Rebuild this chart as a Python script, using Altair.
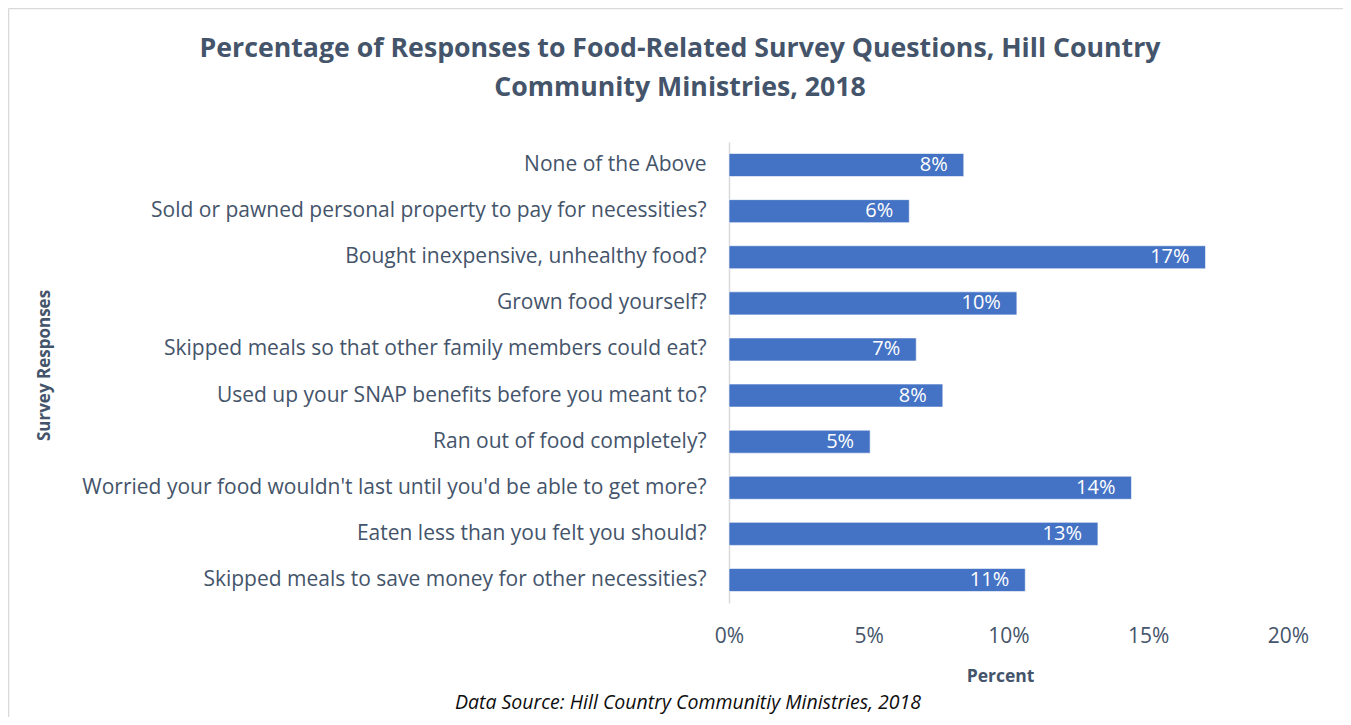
import altair as alt
import pandas as pd

questions = [
    "None of the Above",
    "Sold or pawned personal property to pay for necessities?",
    "Bought inexpensive, unhealthy food?",
    "Grown food yourself?",
    "Skipped meals so that other family members could eat?",
    "Used up your SNAP benefits before you meant to?",
    "Ran out of food completely?",
    "Worried your food wouldn't last until you'd be able to get more?",
    "Eaten less than you felt you should?",
    "Skipped meals to save money for other necessities?",
]
percents = [0.084, 0.0645, 0.1705, 0.103, 0.067, 0.0765, 0.0505, 0.144, 0.132, 0.106]
x_ticks = [0, 0.05, 0.10, 0.15, 0.20]

title_lines = [
    "Percentage of Responses to Food-Related Survey Questions, Hill Country",
    "Community Ministries, 2018",
]
caption = "Data Source: Hill Country Communitiy Ministries, 2018"

df = pd.DataFrame({"question": questions, "pct": percents})

FONT = "Open Sans"
SLATE = "#44546A"

y_enc = alt.Y(
    "question:N",
    sort=questions,
    scale=alt.Scale(paddingInner=0.5, paddingOuter=0.25),
    axis=alt.Axis(
        title="Survey Responses",
        titleFont=FONT,
        titleFontSize=17,
        titleFontWeight="bold",
        titleColor=SLATE,
        titleAngle=-90,
        titleX=-685,
        titleY=223,
        titleAlign="center",
        titleBaseline="middle",
        labelFont=FONT,
        labelFontSize=21,
        labelColor=SLATE,
        labelPadding=23,
        labelLimit=800,
        ticks=False,
        domainColor="#D9D9D9",
        domainWidth=1.5,
    ),
)

x_enc = alt.X(
    "pct:Q",
    scale=alt.Scale(domain=[0, 0.2]),
    axis=alt.Axis(
        values=x_ticks,
        format=".0%",
        title="Percent",
        titleFont=FONT,
        titleFontSize=17.5,
        titleFontWeight="bold",
        titleColor=SLATE,
        titleX=271,
        titleY=73,
        titleAlign="center",
        titleBaseline="middle",
        labelFont=FONT,
        labelFontSize=21,
        labelColor=SLATE,
        labelPadding=22,
        labelFlush=False,
        ticks=False,
        domain=False,
        grid=False,
    ),
)

bars = alt.Chart(df).mark_bar(
    color="#4472C4", stroke="#FFFFFF", strokeWidth=1, strokeOpacity=0.6
).encode(x=x_enc, y=y_enc)

labels = alt.Chart(df).mark_text(
    align="right", baseline="middle", dx=-16, color="white", font=FONT, fontSize=20
).encode(
    x=alt.X("pct:Q"),
    y=alt.Y("question:N", sort=questions),
    text=alt.Text("pct:Q", format=".0%"),
)

one = pd.DataFrame({"k": [1]})

title1 = alt.Chart(pd.DataFrame({"t": [title_lines[0]]})).mark_text(
    font=FONT, fontSize=26.7, fontWeight="bold", color=SLATE, align="center", baseline="middle"
).encode(text="t:N", x=alt.value(-49), y=alt.value(-93))

title2 = alt.Chart(pd.DataFrame({"t": [title_lines[1]]})).mark_text(
    font=FONT, fontSize=26.7, fontWeight="bold", color=SLATE, align="center", baseline="middle"
).encode(text="t:N", x=alt.value(-49), y=alt.value(-54))

cap = alt.Chart(pd.DataFrame({"t": [caption]})).mark_text(
    font=FONT, fontSize=19.5, fontStyle="italic", color="#0D0D0D",
    align="center", baseline="middle",
).encode(text="t:N", x=alt.value(-41), y=alt.value(561))

frame_left = alt.Chart(one).mark_rule(color="#D9D9D9", strokeWidth=1.5).encode(
    x=alt.value(-720.5), y=alt.value(-133.5), y2=alt.value(580)
)
frame_top = alt.Chart(one).mark_rule(color="#D9D9D9", strokeWidth=1.5).encode(
    x=alt.value(-720.5), x2=alt.value(620), y=alt.value(-133.5)
)

chart = (
    alt.layer(frame_left, frame_top, bars, labels, title1, title2, cap)
    .properties(
        width=559,
        height=461,
        background="white",
        autosize=alt.AutoSizeParams(type="none"),
        padding={"left": 721, "top": 134, "right": 55, "bottom": 114},
    )
    .configure_view(strokeWidth=0, stroke="transparent")
)

chart.save("out.html", embed_options={"renderer": "svg", "actions": False})
